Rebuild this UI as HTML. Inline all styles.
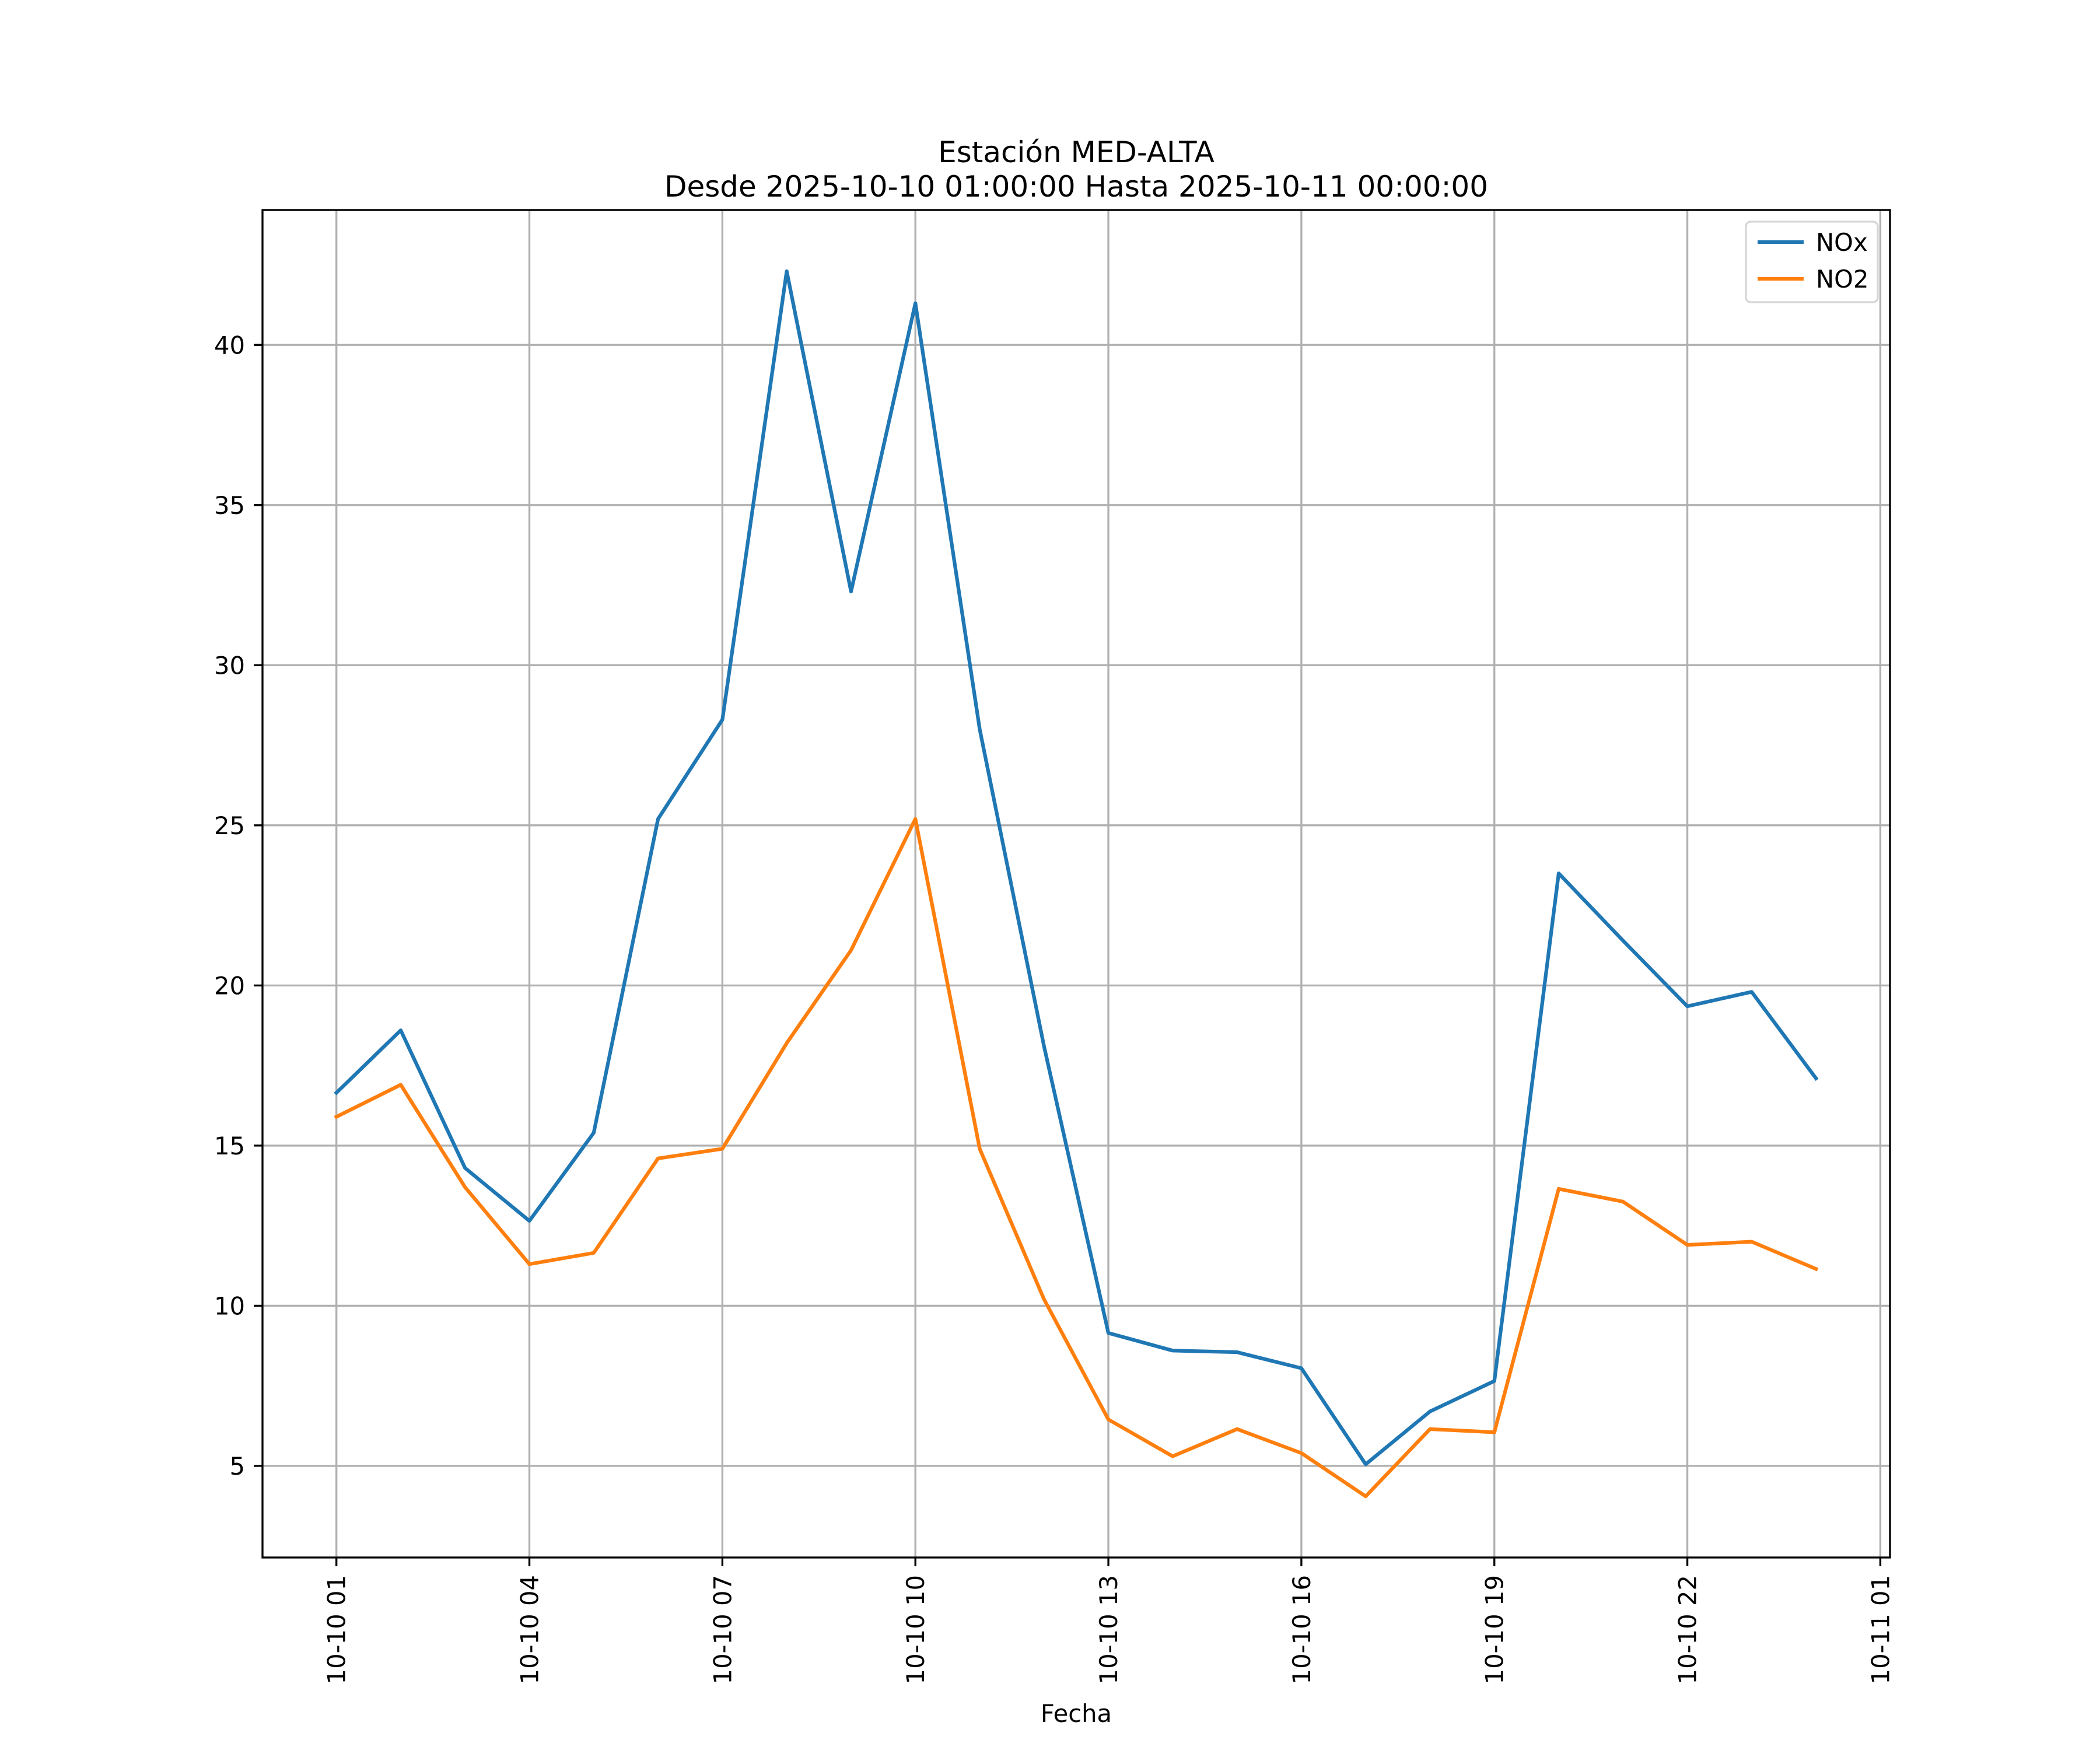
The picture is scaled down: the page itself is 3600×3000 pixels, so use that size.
<!DOCTYPE html>
<html><head><meta charset="utf-8"><style>html,body{margin:0;padding:0;background:#fff}svg{display:block}text{font-family:"DejaVu Sans","Liberation Sans",sans-serif;fill:#000}</style></head>
<body>
<svg id="chart" width="3600" height="3000" viewBox="0 0 3600 3000" xmlns="http://www.w3.org/2000/svg">
<rect width="3600" height="3000" fill="#fff"/>
<text x="1845" y="278" text-anchor="middle" font-size="50">Estación MED-ALTA</text>
<text x="1845" y="337" text-anchor="middle" font-size="50">Desde 2025-10-10 01:00:00 Hasta 2025-10-11 00:00:00</text>
<g id="grid"></g>
<g id="series"></g>
<rect x="450" y="360" width="2790" height="2310" fill="none" stroke="#000" stroke-width="3.33"/>
<g id="ticks"></g>
<text x="1845" y="2952" text-anchor="middle" font-size="41.7">Fecha</text>
<g>
<rect x="2993" y="380" width="226" height="138" rx="8" fill="#fff" fill-opacity="0.8" stroke="#d6d6d6" stroke-width="3.33"/>
<line x1="3013" y1="415" x2="3092" y2="415" stroke="#1f77b4" stroke-width="6.25"/>
<text x="3113" y="430" font-size="41.7">NOx</text>
<line x1="3013" y1="478" x2="3092" y2="478" stroke="#ff7f0e" stroke-width="6.25"/>
<text x="3113" y="493" font-size="41.7">NO2</text>
</g>
</svg>
<script>
const hours = [1,2,3,4,5,6,7,8,9,10,11,12,13,14,15,16,17,18,19,20,21,22,23,24];
const noxValues = [16.65,18.6,14.3,12.65,15.4,25.2,28.3,42.3,32.3,41.3,28.0,18.1,9.15,8.6,8.55,8.05,5.05,6.7,7.65,23.5,21.4,19.35,19.8,17.1];
const no2Values = [15.9,16.9,13.7,11.3,11.65,14.6,14.9,18.2,21.1,25.2,14.9,10.2,6.45,5.3,6.15,5.4,4.05,6.15,6.05,13.65,13.25,11.9,12.0,11.15];
const yTicks = [5,10,15,20,25,30,35,40];
const xTickHours = [1,4,7,10,13,16,19,22,25];
const xTickLabels = ["10-10 01","10-10 04","10-10 07","10-10 10","10-10 13","10-10 16","10-10 19","10-10 22","10-11 01"];

const NS = "http://www.w3.org/2000/svg";
function xs(h){ return 576.7 + (h-1)*110.28; }
function ys(v){ return 2787.5 - v*54.906; }
function mk(tag, attrs, parent){ const e=document.createElementNS(NS,tag); for(const k in attrs) e.setAttribute(k,attrs[k]); parent.appendChild(e); return e; }
const grid=document.getElementById('grid'), ticks=document.getElementById('ticks'), series=document.getElementById('series');

yTicks.forEach(v=>{
  const y=ys(v);
  const g=mk('line',{x1:450,x2:3240,y1:y,y2:y,stroke:'#b0b0b0','stroke-width':3.33},grid);
  
  
  const t=mk('line',{x1:435,x2:450,y1:y,y2:y,stroke:'#000','stroke-width':3.33},ticks);
  
  
  const l=mk('text',{x:420,y:y+15.2,'text-anchor':'end','font-size':41.7},ticks);
  l.textContent=v;
  
  
});
xTickHours.forEach((h,i)=>{
  const x=xs(h);
  const g=mk('line',{x1:x,x2:x,y1:360,y2:2670,stroke:'#b0b0b0','stroke-width':3.33},grid);
  
  
  const t=mk('line',{x1:x,x2:x,y1:2670,y2:2685,stroke:'#000','stroke-width':3.33},ticks);
  
  
  const l=mk('text',{x:0,y:0,'text-anchor':'end','font-size':41.7,transform:`translate(${x+15},2700) rotate(-90)`},ticks);
  l.textContent=xTickLabels[i];
  
  
});
function drawLine(vals,color,name){
  const pts=vals.map((v,i)=>xs(hours[i])+','+ys(v)).join(' ');
  const p=mk('polyline',{points:pts,fill:'none',stroke:color,'stroke-width':6.25,'stroke-linejoin':'round','stroke-linecap':'square'},series);
  
  
}
drawLine(noxValues,'#1f77b4','nox-line');
drawLine(no2Values,'#ff7f0e','no2-line');
</script>
</body></html>
